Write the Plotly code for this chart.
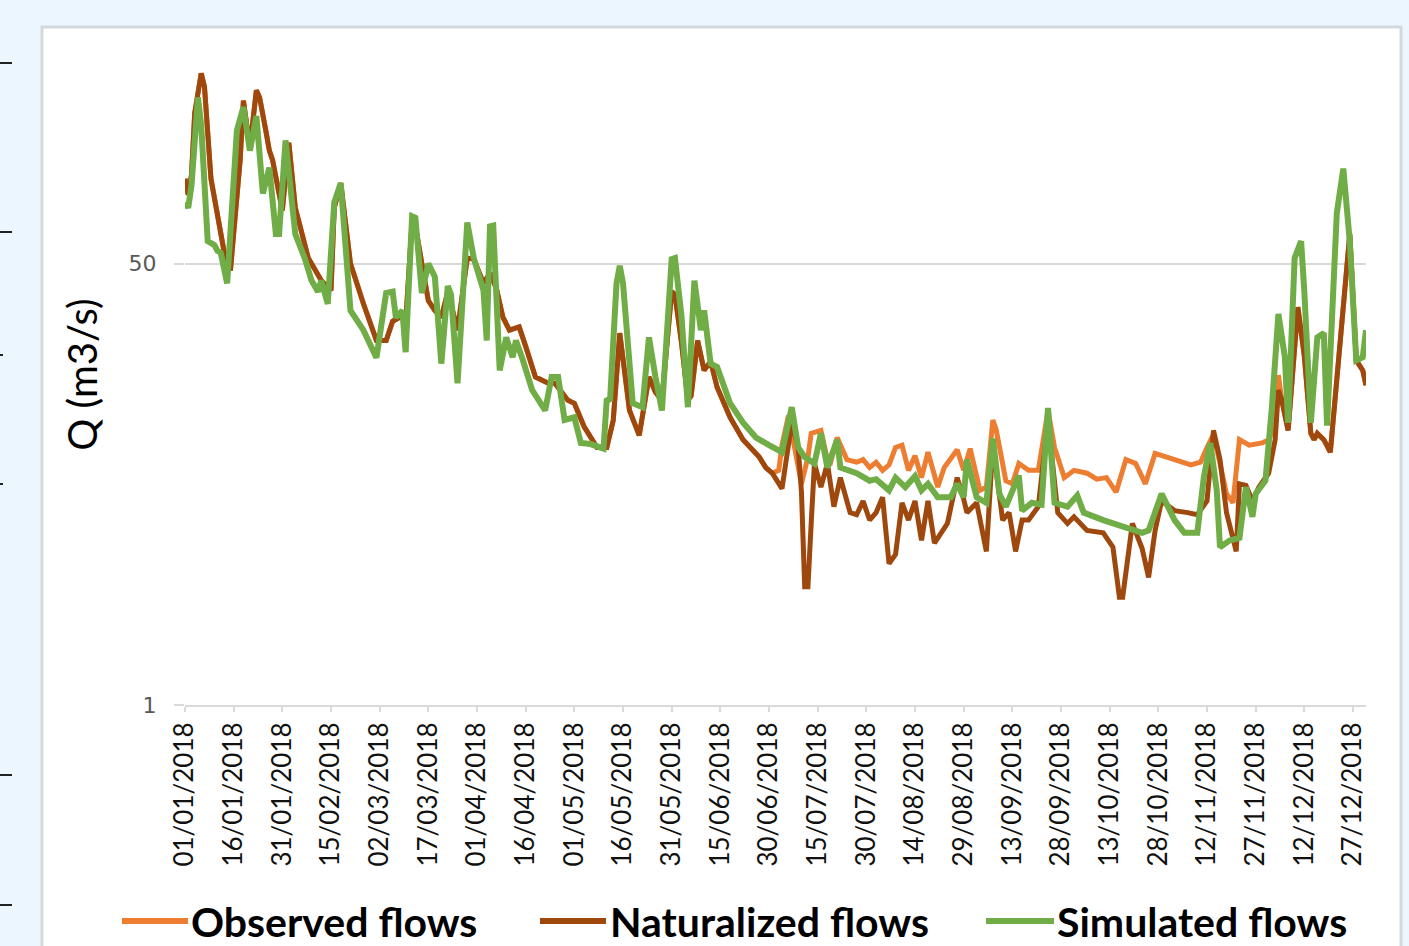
import pandas as pd
import numpy as np
import plotly.graph_objects as go

# ---------------- data (day of year offset from 01/01/2018, flow in m3/s) ----------------
nat_days = [0, 1, 2, 3, 5, 6, 8, 10, 12, 14, 17, 18, 20, 22, 23, 25, 26, 27, 30, 32, 34, 38, 42, 45, 46, 48,
            51, 55, 59, 62, 64, 67, 68, 70, 71, 73, 75, 77, 79, 81, 84, 87, 89, 92, 94, 96, 98, 100, 103, 105,
            108, 112, 114, 118, 120, 123, 127, 130, 132, 134, 137, 140, 143, 145, 147, 150, 151, 153, 155, 156,
            158, 160, 162, 164, 168, 172, 175, 177, 179, 181, 184, 185, 187, 189, 190, 191, 192, 193, 194, 196,
            198, 200, 202, 205, 207, 209, 211, 213, 215, 217, 219, 221, 223, 225, 227, 229, 231, 235, 238, 240,
            241, 244, 247, 249, 252, 254, 256, 258, 260, 263, 266, 269, 272, 274, 278, 283, 286, 288, 289, 292,
            295, 297, 299, 301, 305, 309, 312, 315, 317, 319, 321, 324, 325, 327, 329, 331, 334, 336, 337, 338,
            340, 343, 345, 347, 348, 349, 351, 353, 355, 358, 359, 361, 363, 364]
nat_q = [106, 92, 110, 190, 270, 240, 106, 78, 56, 47, 125, 212, 140, 232, 218, 160, 136, 125, 80, 146, 82, 52.5,
         43, 39.4, 82, 102, 50, 35, 25.3, 25.3, 30, 31.5, 29.5, 73, 70, 50, 36, 33, 31, 39, 27.7, 52.5, 52, 42,
         46, 40, 31, 27.7, 28.5, 24, 18.3, 17.3, 17.3, 14.9, 14.5, 11.8, 9.8, 9.8, 12.5, 27, 13.6, 10.9, 18.3,
         16, 14.9, 39, 38, 25, 14.9, 15.5, 25.3, 19.4, 21, 16.7, 12.8, 10.5, 9.6, 9, 8.2, 7.8, 6.8, 8.5, 12.2,
         9.8, 6.6, 2.85, 2.85, 5, 8.5, 6.9, 8.5, 5.8, 7.5, 5.5, 5.4, 6.1, 5.15, 5.5, 6.3, 3.5, 3.8, 6, 5.15,
         6.1, 4.3, 6.1, 4.2, 5, 7.5, 6.2, 5.5, 6, 3.9, 10, 5.15, 5.5, 3.9, 5.15, 5.15, 5.8, 12.5, 5.5, 5, 5.3,
         4.7, 4.6, 4.05, 2.6, 2.6, 5, 4.0, 3.1, 4.7, 6.1, 5.6, 5.5, 5.4, 6.1, 11.4, 8.8, 5.5, 3.9, 7.1, 7.0,
         6.1, 6.9, 7.8, 10.5, 16.3, 15, 11.4, 34, 22, 11.1, 10.5, 11.1, 10.5, 9.4, 17.8, 48.5, 65, 21.2, 19.4, 17]

# observed flows where they separate from the naturalized ones (summer - autumn)
obs_mid_days = [183, 184, 186, 188, 190, 192, 193, 196, 198, 199, 201, 204, 207, 209, 211, 213, 215, 217, 219,
                221, 223, 225, 227, 229, 232, 234, 238, 240, 242, 245, 247, 249, 250, 253, 255, 257, 260, 263,
                266, 268, 271, 274, 278, 281, 284, 287, 290, 293, 296, 299, 302, 305, 310, 313, 315, 317, 319,
                321, 323, 325, 328, 332, 334, 336, 337]
obs_mid_q = [8.0, 10, 13, 9.5, 7.1, 9, 11.1, 11.4, 8.8, 8.6, 10.7, 8.8, 8.6, 8.8, 8.2, 8.6, 8.0, 8.4, 9.8,
             10, 8, 9.1, 7.5, 9.4, 6.9, 8.2, 9.6, 8, 9.7, 6.7, 6.9, 12.5, 11.5, 7.3, 7.1, 8.5, 8, 8,
             13.6, 9.8, 7.5, 8, 7.8, 7.4, 7.5, 6.6, 8.8, 8.5, 7.1, 9.3, 9.0, 8.8, 8.4, 8.6, 9.8, 11, 8.5,
             6.5, 6, 10.5, 10, 10.2, 10.5, 12, 18.6]

sim_days = [0, 1, 2, 3, 4, 5, 7, 9, 10, 11, 13, 16, 18, 20, 22, 24, 26, 28, 29, 31, 34, 37, 39, 41, 42, 44, 46,
            48, 51, 55, 59, 62, 64, 65, 67, 68, 70, 71, 73, 75, 77, 79, 81, 82, 84, 87, 89, 92, 93, 94, 95, 97,
            99, 101, 102, 104, 107, 111, 113, 115, 117, 120, 122, 125, 129, 130, 131, 133, 134, 135, 138, 141,
            143, 145, 147, 150, 151, 153, 155, 157, 159, 160, 162, 164, 168, 172, 176, 180, 184, 187, 189, 191,
            194, 196, 198, 201, 202, 207, 211, 213, 217, 219, 222, 225, 227, 229, 232, 236, 238, 240, 241, 244,
            247, 249, 251, 253, 257, 258, 261, 264, 266, 268, 272, 275, 277, 283, 289, 295, 297, 301, 305, 308,
            312, 314, 316, 318, 319, 322, 325, 327, 329, 330, 333, 335, 337, 339, 340, 342, 344, 345, 347, 349,
            351, 352, 355, 357, 359, 361, 363, 364]
sim_q = [86, 82, 100, 160, 218, 170, 61, 59, 56, 55, 42, 163, 200, 136, 185, 93, 117, 65, 65, 149, 65, 52, 43,
         39, 43, 35, 86, 102, 33, 27.7, 21.7, 38.5, 39, 31, 33, 22.8, 76, 75, 38.5, 50, 44.5, 20.6, 41, 38, 17.3,
         72, 52.5, 39.4, 25.3, 69.5, 70, 19.4, 26, 21.8, 25.3, 21.5, 16.3, 13.6, 18.3, 18.3, 12.5, 12.8, 10.2,
         10.1, 9.7, 15.1, 14.8, 42, 49, 42, 14.5, 14, 26, 18.3, 13.6, 52, 52.5, 31.6, 14, 43, 27.7, 33, 20.6,
         20, 14.5, 12.2, 10.7, 10, 9.4, 14, 9.8, 9, 8.5, 11.1, 8.2, 10.5, 8.2, 7.8, 7.3, 7.4, 6.7, 7.5, 6.9,
         7.6, 6.7, 7.1, 6.3, 6.3, 7.1, 6.3, 8.8, 6.3, 6.0, 10.6, 6.5, 5.8, 7.65, 5.6, 6.0, 5.9, 13.9, 6.0, 5.8,
         6.4, 5.5, 5.15, 4.85, 4.6, 4.7, 6.5, 5.15, 4.6, 4.6, 7.5, 10.2, 6.7, 4.05, 4.3, 4.4, 6.9, 5.3, 6.5,
         7.3, 14, 32, 21.8, 12.2, 52.5, 61, 39, 12.2, 26, 27, 11.9, 78, 116, 61, 21.2, 21.8, 27.7]

tick_labels = ["01/01/2018", "16/01/2018", "31/01/2018", "15/02/2018", "02/03/2018", "17/03/2018",
               "01/04/2018", "16/04/2018", "01/05/2018", "16/05/2018", "31/05/2018", "15/06/2018",
               "30/06/2018", "15/07/2018", "30/07/2018", "14/08/2018", "29/08/2018", "13/09/2018",
               "28/09/2018", "13/10/2018", "28/10/2018", "12/11/2018", "27/11/2018", "12/12/2018",
               "27/12/2018"]
y_tick_vals = [1, 50]

series_names = ["Observed flows", "Naturalized flows", "Simulated flows"]
series_colors = ["#ED7D31", "#9E480E", "#70AD47"]
series_widths = [5, 5, 6]

# ---------------- build ----------------
BASE = pd.Timestamp("2018-01-01")


def to_dates(days):
    return BASE + pd.to_timedelta(days, unit="D")


# observed = naturalized outside the summer/autumn window
obs_days = [d for d in nat_days if d < obs_mid_days[0]] + obs_mid_days + [d for d in nat_days if d > obs_mid_days[-1]]
obs_q = ([q for d, q in zip(nat_days, nat_q) if d < obs_mid_days[0]] + obs_mid_q +
         [q for d, q in zip(nat_days, nat_q) if d > obs_mid_days[-1]])

fig = go.Figure()
for name, days, q, col, w in zip(series_names,
                                 [obs_days, nat_days, sim_days],
                                 [obs_q, nat_q, sim_q],
                                 series_colors, series_widths):
    fig.add_trace(go.Scatter(x=to_dates(days), y=q, mode="lines", name=name,
                             line=dict(color=col, width=w), showlegend=False))

tick_vals = pd.to_datetime(tick_labels, format="%d/%m/%Y")

W, H = 1409, 946
L, R, T, B = 185, 43, 44, 241
pw, ph = W - L - R, H - T - B


def px_x(x):
    return (x - L) / pw


def px_y(y):
    return (H - B - y) / ph


shapes = [
    dict(type="rect", xref="paper", yref="paper", x0=px_x(42), x1=px_x(1401), y0=px_y(950), y1=px_y(27),
         fillcolor="white", line=dict(color="#D6D9DC", width=3), layer="below"),
]
# small dark marks on the far left edge
for yy, ln in [(63, 12), (232, 12), (355, 3), (484, 3), (775, 12), (905, 12)]:
    shapes.append(dict(type="line", xref="paper", yref="paper", x0=px_x(0), x1=px_x(ln),
                       y0=px_y(yy), y1=px_y(yy), line=dict(color="#222222", width=2)))

# custom legend (long line keys like the original)
annotations = []
legend_pos = [(122, 188, 189), (540, 606, 608), (986, 1054, 1055)]
for (lx0, lx1, tx), name, col in zip(legend_pos, series_names, series_colors):
    shapes.append(dict(type="line", xref="paper", yref="paper", x0=px_x(lx0), x1=px_x(lx1),
                       y0=px_y(921), y1=px_y(921), line=dict(color=col, width=6)))
    annotations.append(dict(text=name, xref="paper", yref="paper", x=px_x(tx), y=px_y(921),
                            xanchor="left", yanchor="middle", showarrow=False,
                            font=dict(family="Lato", size=41, color="black", weight="bold")))

fig.update_layout(
    width=W, height=H,
    margin=dict(l=L, r=R, t=T, b=B, autoexpand=False),
    paper_bgcolor="#EBF6FE",
    plot_bgcolor="white",
    shapes=shapes,
    annotations=annotations,
    showlegend=False,
    xaxis=dict(
        range=[BASE, pd.Timestamp("2018-12-31")],
        tickmode="array", tickvals=tick_vals, ticktext=tick_labels, tickangle=-90,
        tickfont=dict(family="Lato", size=26, color="#111111"),
        ticks="outside", ticklen=5, tickcolor="#D9D9D9", tickwidth=1.5,
        showline=True, linecolor="#D9D9D9", linewidth=2, showgrid=False, zeroline=False,
    ),
    yaxis=dict(
        type="log", range=[0, np.log10(350)],
        tickmode="array", tickvals=y_tick_vals, ticktext=[str(v) for v in y_tick_vals],
        tickfont=dict(family="DejaVu Sans", size=22, color="#595959"),
        ticks="outside", ticklen=10, tickcolor="#D9D9D9", tickwidth=1.5,
        ticklabelstandoff=13,
        showgrid=True, gridcolor="#D9D9D9", gridwidth=2, showline=False, zeroline=False,
        title=dict(text="Q (m3/s)", font=dict(family="Lato", size=40, color="black"), standoff=18),
    ),
)

fig.write_html("out.html", config={"displayModeBar": False},
               post_script="document.body.style.margin='0';document.body.style.overflow='hidden';")
